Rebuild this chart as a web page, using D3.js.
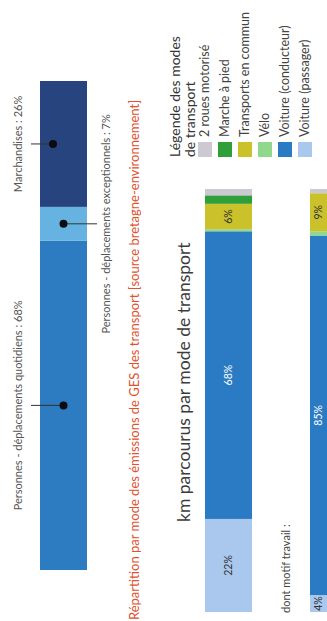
<!DOCTYPE html>
<html>
<head>
<meta charset="utf-8">
<script src="https://cdn.jsdelivr.net/npm/d3@7"></script>
<style>
  html, body { margin: 0; padding: 0; background: #fff; }
  svg { display: block; font-family: Lato, "Open Sans", sans-serif; }
</style>
</head>
<body>
<div id="chart"></div>
<script>
// Greenhouse-gas emissions of transport, by purpose (%)
const gesCategories = [
  "Personnes - déplacements quotidiens",
  "Personnes - déplacements exceptionnels",
  "Marchandises"
];
const gesValues = [68, 7, 26];
const gesColors = ["#2d7cc1", "#66b3e1", "#27447f"];
const gesLabelSide = ["left", "right", "left"];

// Transport modes (legend order, top of the stack first)
const modes = [
  "2 roues motorisé",
  "Marche à pied",
  "Transports en commun",
  "Vélo",
  "Voiture (conducteur)",
  "Voiture (passager)"
];
const modeColors = ["#cdc9d3", "#2f9f39", "#cbc22b", "#90d88b", "#2b7bc4", "#aac8ee"];

// Share of km travelled per mode (%), all purposes and work trips only
const kmAll = [1.5, 2, 6, 0.5, 68, 22];
const kmWork = [1, 0, 9, 1, 85, 4];
// Modes whose share is printed inside the bars
const labelledModes = ["Transports en commun", "Voiture (conducteur)", "Voiture (passager)"];

const W = 327, H = 621;

const svg = d3.select("#chart").append("svg")
  .attr("width", W).attr("height", H);
svg.append("rect").attr("width", W).attr("height", H).attr("fill", "#fff");

// The whole figure is laid out sideways: local x runs up the page, local y across it.
const g = svg.append("g").attr("transform", `translate(0,${H}) rotate(-90)`);

const barH = 47;

// ---- GES bar -------------------------------------------------------------
const gesY = 40;
const xG = d3.scaleLinear().domain([0, d3.sum(gesValues)]).range([51, 540]);
const gesEnd = d3.cumsum(gesValues);
const gesData = gesValues.map((v, i) => ({
  cat: gesCategories[i], v, color: gesColors[i], side: gesLabelSide[i],
  x0: gesEnd[i] - v, x1: gesEnd[i]
}));

g.selectAll("rect.ges").data(gesData).join("rect")
  .attr("class", "ges")
  .attr("x", d => xG(d.x0))
  .attr("width", d => xG(d.x1) - xG(d.x0))
  .attr("y", gesY).attr("height", barH)
  .attr("fill", d => d.color);

const ann = g.selectAll("g.ann").data(gesData).join("g").attr("class", "ann");
ann.each(function (d) {
  const s = d3.select(this);
  const mx = xG((d.x0 + d.x1) / 2);
  const dotY = d.cat === "Marchandises" ? gesY + 13 : gesY + barH / 2;
  const endY = d.side === "left" ? 31 : 97;
  s.append("line")
    .attr("x1", mx).attr("x2", mx)
    .attr("y1", dotY).attr("y2", endY)
    .attr("stroke", "#333").attr("stroke-width", 1);
  s.append("circle").attr("cx", mx).attr("cy", dotY).attr("r", 4).attr("fill", "#0b0b14");
  s.append("text")
    .attr("x", mx)
    .attr("y", d.side === "left" ? 22 : 110)
    .attr("text-anchor", "middle")
    .attr("font-size", 11)
    .attr("fill", "#555")
    .text(`${d.cat} : ${d.v}%`);
});

g.append("text")
  .attr("x", 1).attr("y", 139)
  .attr("font-size", 13)
  .attr("fill", "#e2502e")
  .text("Répartition par mode des émissions de GES des transport [source bretagne-environnement]");

// ---- km bars -------------------------------------------------------------
g.append("text")
  .attr("x", 99).attr("y", 190)
  .attr("font-size", 17.5)
  .attr("fill", "#3c3c3c")
  .text("km parcourus par mode de transport");

g.append("text")
  .attr("x", 8).attr("y", 290)
  .attr("font-size", 11)
  .attr("fill", "#444")
  .text("dont motif travail :");

const xK = d3.scaleLinear().domain([0, 100]).range([9, 432]);

function stackedBar(values, y0) {
  // stack from the bottom of the legend upwards: passenger car first
  const order = d3.range(modes.length).reverse();
  let acc = 0;
  const segs = order.map(i => {
    const s = { mode: modes[i], v: values[i], color: modeColors[i], x0: acc, x1: acc + values[i] };
    acc += values[i];
    return s;
  }).filter(s => s.v > 0);

  const bar = g.append("g");
  bar.selectAll("rect").data(segs).join("rect")
    .attr("x", d => xK(d.x0))
    .attr("width", d => xK(d.x1) - xK(d.x0))
    .attr("y", y0).attr("height", barH)
    .attr("fill", d => d.color);

  const visibleMid = (y0 + Math.min(y0 + barH, W)) / 2;
  bar.selectAll("text").data(segs.filter(s => labelledModes.includes(s.mode))).join("text")
    .attr("x", d => xK((d.x0 + d.x1) / 2))
    .attr("y", visibleMid)
    .attr("dy", "0.35em")
    .attr("text-anchor", "middle")
    .attr("font-size", 10.5)
    .attr("fill", d => d.mode === "Voiture (conducteur)" ? "#fff" : "#333")
    .text(d => `${d.v}%`);
}
stackedBar(kmAll, 205);
stackedBar(kmWork, 310);

// ---- legend --------------------------------------------------------------
const legX = 464;
const legTitle = g.append("text")
  .attr("font-size", 14).attr("fill", "#333");
legTitle.append("tspan").attr("x", legX).attr("y", 180).text("Légende des modes");
legTitle.append("tspan").attr("x", legX).attr("y", 195).text("de transport");

const yLeg = d3.scalePoint().domain(modes).range([198, 298]);
const leg = g.selectAll("g.leg").data(modes).join("g").attr("class", "leg");
leg.append("rect")
  .attr("x", legX).attr("width", 15)
  .attr("y", d => yLeg(d)).attr("height", 14)
  .attr("fill", (d, i) => modeColors[i]);
leg.append("text")
  .attr("x", legX + 20)
  .attr("y", d => yLeg(d) + 11)
  .attr("font-size", 12.5)
  .attr("fill", "#444")
  .text(d => d);
</script>
</body>
</html>
